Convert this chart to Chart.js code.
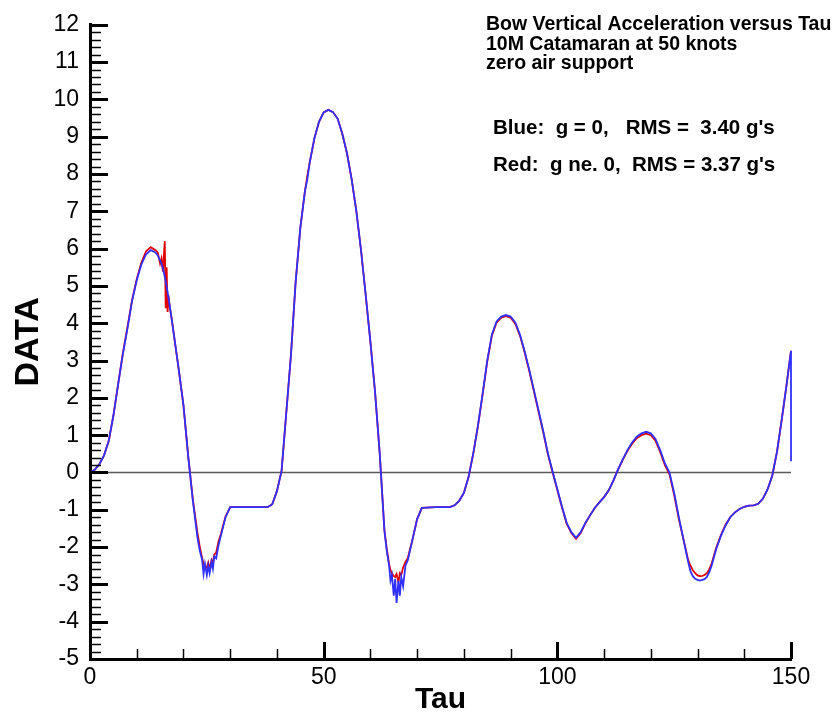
<!DOCTYPE html>
<html>
<head>
<meta charset="utf-8">
<title>Bow Vertical Acceleration versus Tau</title>
<script src="https://cdn.jsdelivr.net/npm/chart.js@4/dist/chart.umd.min.js"></script>
<style>
  html, body { margin: 0; padding: 0; background: #ffffff; }
  canvas { display: block; }
</style>
</head>
<body>
<canvas id="chart" width="839" height="719"></canvas>
<script>
// Time axis (tau) shared by both runs
const tau = [
  0, 1, 2, 3, 4, 5, 6, 7, 8, 9, 10, 11, 12, 13, 14, 14.5, 15, 15.3, 15.6, 16,
  16.2, 16.4, 16.6, 16.8, 17, 17.5, 18, 19, 20, 21, 22, 23, 23.5, 24, 24.3, 24.6,
  25, 25.3, 25.6, 26, 26.3, 26.6, 27, 27.5, 28, 29, 30, 34, 38, 39, 40, 41,
  42, 43, 44, 45, 46, 46.5, 47, 48, 49, 50, 51, 52, 53, 54, 55, 56, 57, 58,
  59, 60, 61, 62, 63, 63.5, 64, 64.3, 64.6, 65, 65.3, 65.6, 66, 66.3, 66.6, 67,
  67.5, 68, 69, 70, 71, 74, 77, 78, 79, 80, 81, 82, 83, 84, 85, 86, 87, 88,
  89, 90, 91, 92, 93, 94, 95, 96, 97, 98, 99, 100, 101, 102, 103, 104, 105, 106,
  107, 108, 109, 110, 111, 112, 113, 114, 115, 116, 117, 118, 119, 120, 121, 122, 123, 124,
  125, 126, 127, 128, 128.5, 129, 129.5, 130, 130.5, 131, 131.5, 132, 132.5, 133, 134, 135, 136, 137,
  138, 139, 140, 141, 142, 143, 144, 145, 146, 147, 148, 149, 150
];

// Blue run: g = 0
const blueG0 = [
  0, 0.07, 0.22, 0.46, 0.84, 1.52, 2.35, 3.15, 3.85, 4.6, 5.15, 5.58, 5.85, 5.96, 5.9, 5.82, 5.68, 5.6, 5.47, 5.25,
  5.12, 4.98, 4.84, 4.68, 4.52, 4.1, 3.65, 2.75, 1.8, 0.45, -0.75, -1.75, -2.1, -2.35, -2.72, -2.45,
  -2.75, -2.5, -2.7, -2.4, -2.58, -2.25, -2.3, -1.95, -1.7, -1.2, -0.93, -0.93, -0.93, -0.85, -0.5, 0.05,
  1.6, 3.15, 5.1, 6.55, 7.55, 7.85, 8.3, 8.95, 9.4, 9.65, 9.72, 9.66, 9.48, 9.07, 8.55, 7.85, 7.0, 5.95,
  4.75, 3.5, 2.15, 0.5, -1.55, -2.1, -2.5, -2.9, -2.75, -3.3, -2.85, -3.5, -2.9, -3.3, -2.8, -3.05,
  -2.5, -2.35, -1.8, -1.25, -0.95, -0.93, -0.93, -0.88, -0.76, -0.55, -0.12, 0.5, 1.25, 2.1, 3.0, 3.7, 4.05, 4.18,
  4.22, 4.18, 4.02, 3.7, 3.25, 2.75, 2.2, 1.65, 1.1, 0.5, 0.02, -0.45, -0.92, -1.35, -1.6, -1.75, -1.6, -1.35,
  -1.15, -0.95, -0.8, -0.66, -0.48, -0.22, 0.08, 0.35, 0.6, 0.8, 0.96, 1.05, 1.09, 1.05, 0.9, 0.6, 0.25, 0.0,
  -0.55, -1.2, -1.8, -2.4, -2.65, -2.78, -2.85, -2.88, -2.9, -2.88, -2.86, -2.8, -2.68, -2.5, -2.05, -1.7, -1.42, -1.2,
  -1.07, -0.98, -0.92, -0.89, -0.88, -0.84, -0.7, -0.45, -0.08, 0.55, 1.4, 2.3, 3.26
];
// The blue record ends with a drop at the last time step
const blueTailTau = [150];
const blueTailValue = [0.3];

// Red run: g ne. 0
const redGne0 = [
  0, 0.07, 0.22, 0.46, 0.84, 1.52, 2.35, 3.17, 3.88, 4.62, 5.18, 5.63, 5.93, 6.04, 5.96, 5.9, 5.6, 5.74, 5.38, 6.2,
  4.4, 5.5, 4.3, 4.75, 4.5, 4.1, 3.65, 2.75, 1.8, 0.45, -0.72, -1.62, -2.0, -2.3, -2.45, -2.52,
  -2.55, -2.42, -2.6, -2.35, -2.42, -2.2, -2.15, -1.85, -1.65, -1.18, -0.93, -0.93, -0.93, -0.85, -0.5, 0.05,
  1.6, 3.15, 5.1, 6.55, 7.55, 7.95, 8.3, 8.95, 9.4, 9.65, 9.72, 9.66, 9.48, 9.07, 8.55, 7.85, 7.0, 5.95,
  4.75, 3.5, 2.15, 0.5, -1.55, -2.05, -2.45, -2.62, -2.7, -2.78, -2.8, -2.72, -2.95, -2.7, -2.75, -2.55,
  -2.4, -2.3, -1.8, -1.25, -0.95, -0.93, -0.93, -0.88, -0.76, -0.55, -0.12, 0.5, 1.23, 2.08, 2.97, 3.67, 4.02, 4.15,
  4.19, 4.15, 3.99, 3.67, 3.22, 2.72, 2.17, 1.62, 1.07, 0.48, 0.0, -0.47, -0.94, -1.37, -1.62, -1.78, -1.62, -1.36,
  -1.15, -0.95, -0.8, -0.66, -0.48, -0.22, 0.08, 0.34, 0.58, 0.77, 0.92, 1.0, 1.04, 1.0, 0.85, 0.55, 0.2, -0.05,
  -0.6, -1.25, -1.8, -2.35, -2.5, -2.62, -2.7, -2.76, -2.78, -2.77, -2.75, -2.7, -2.6, -2.45, -2.02, -1.68, -1.4, -1.2,
  -1.07, -0.98, -0.92, -0.89, -0.88, -0.84, -0.7, -0.45, -0.08, 0.55, 1.4, 2.3, 3.26
];

// Zero reference line
const zeroTau = [0, 150];
const zeroValue = [0, 0];

// Axis ranges and tick spacing
const xMin = 0, xMax = 150, xMajorStep = 50, xMinorStep = 10;
const yMin = -5, yMax = 12, yMajorStep = 1, yMinorStep = 0.2;

// Annotation text
const titleLines = [
  'Bow Vertical Acceleration versus Tau',
  '10M Catamaran at 50 knots',
  'zero air support'
];
const blueNote = "Blue:  g = 0,   RMS =  3.40 g's";
const redNote = "Red:  g ne. 0,  RMS = 3.37 g's";

const FONT = '"Liberation Sans", Arial, Helvetica, sans-serif';

function toPoints(xs, ys) {
  return xs.map((x, i) => ({ x: x, y: ys[i] }));
}

// Inward tick marks on both axes plus the text block
const framePlugin = {
  id: 'frame',
  afterDraw(chart) {
    const { ctx, chartArea, scales } = chart;
    const xs = scales.x, ys = scales.y;
    ctx.save();
    ctx.strokeStyle = '#000';
    ctx.lineCap = 'butt';
    const yCount = Math.round((yMax - yMin) / yMinorStep);
    for (let i = 0; i <= yCount; i++) {
      const v = yMin + i * yMinorStep;
      const major = i % Math.round(yMajorStep / yMinorStep) === 0;
      const py = Math.round(ys.getPixelForValue(v)) + 0.5;
      ctx.lineWidth = major ? 3 : 1.5;
      ctx.beginPath();
      ctx.moveTo(chartArea.left, py);
      ctx.lineTo(chartArea.left + (major ? 18 : 11), py);
      ctx.stroke();
    }
    const xCount = Math.round((xMax - xMin) / xMinorStep);
    for (let i = 0; i <= xCount; i++) {
      const v = xMin + i * xMinorStep;
      const major = Math.abs(v % xMajorStep) < 1e-9;
      const px = Math.round(xs.getPixelForValue(v)) + 0.5;
      ctx.lineWidth = major ? 3 : 1.5;
      ctx.beginPath();
      ctx.moveTo(px, chartArea.bottom);
      ctx.lineTo(px, chartArea.bottom - (major ? 17 : 10));
      ctx.stroke();
    }

    ctx.fillStyle = '#000';
    ctx.textAlign = 'left';
    ctx.textBaseline = 'alphabetic';
    ctx.font = 'bold 19.5px ' + FONT;
    titleLines.forEach((t, i) => ctx.fillText(t, 486, 30 + i * 19.5));
    ctx.font = 'bold 20.5px ' + FONT;
    ctx.fillText(blueNote, 493, 134);
    ctx.fillText(redNote, 493, 171);
    ctx.restore();
  }
};

new Chart(document.getElementById('chart'), {
  type: 'line',
  data: {
    datasets: [
      {
        label: 'g = 0',
        data: toPoints(tau, blueG0).concat(toPoints(blueTailTau, blueTailValue)),
        borderColor: '#3030ff',
        borderWidth: 1.8,
        pointRadius: 0,
        tension: 0,
        clip: 6
      },
      {
        label: 'g ne. 0',
        data: toPoints(tau, redGne0),
        borderColor: '#e00000',
        borderWidth: 1.8,
        pointRadius: 0,
        tension: 0,
        clip: 6
      },
      {
        label: 'zero',
        data: toPoints(zeroTau, zeroValue),
        borderColor: '#5a5a5a',
        borderWidth: 1.4,
        pointRadius: 0,
        tension: 0
      }
    ]
  },
  options: {
    responsive: false,
    animation: false,
    events: [],
    layout: { padding: { top: 19, right: 48, left: 0, bottom: 0 } },
    plugins: {
      legend: { display: false },
      tooltip: { enabled: false },
      title: { display: false }
    },
    scales: {
      x: {
        type: 'linear',
        min: xMin,
        max: xMax,
        afterFit: (s) => { s.height = 60; },
        grid: { display: false, drawTicks: false },
        border: { display: true, width: 3, color: '#000' },
        ticks: {
          stepSize: xMajorStep,
          padding: 5,
          color: '#000',
          font: { family: FONT, size: 23 },
          maxRotation: 0,
          autoSkip: false
        },
        title: {
          display: true,
          text: 'Tau',
          color: '#000',
          font: { family: FONT, size: 30, weight: 'bold' },
          padding: { top: 0, bottom: 1 }
        }
      },
      y: {
        type: 'linear',
        min: yMin,
        max: yMax,
        afterFit: (s) => { s.width = 90; },
        grid: { display: false, drawTicks: false },
        border: { display: true, width: 3, color: '#000' },
        ticks: {
          stepSize: yMajorStep,
          padding: 11,
          color: '#000',
          font: { family: FONT, size: 23 },
          autoSkip: false
        },
        title: {
          display: true,
          text: 'DATA',
          color: '#000',
          font: { family: FONT, size: 34, weight: 'bold' },
          padding: { top: 8, bottom: 0 }
        }
      }
    }
  },
  plugins: [framePlugin]
});
</script>
</body>
</html>
